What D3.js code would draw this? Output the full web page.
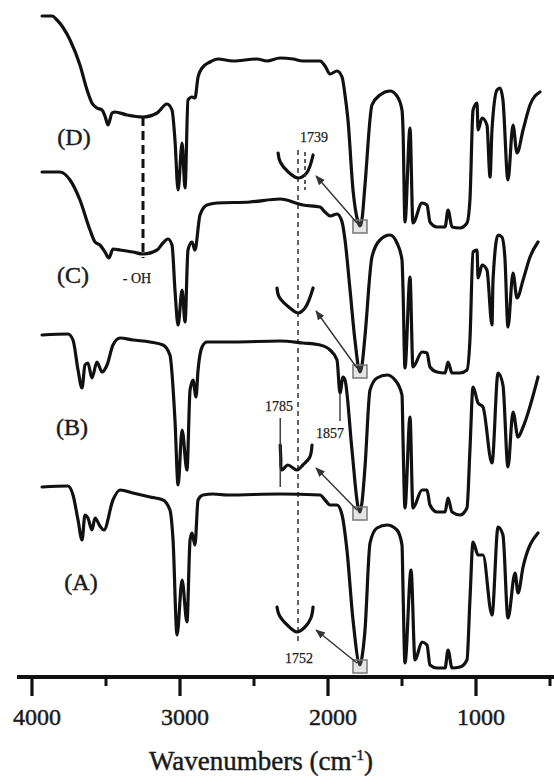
<!DOCTYPE html>
<html>
<head>
<meta charset="utf-8">
<script src="https://cdn.jsdelivr.net/npm/d3@7"></script>
<style>
    body { margin: 0; background: #fff; }
    svg { display: block; }
    text { font-family: "Liberation Serif", "Times New Roman", Times, serif; fill: #1a1a1a; stroke: #1a1a1a; stroke-width: 0.45px; }
</style>
</head>
<body>
<svg id="chart" width="554" height="778"></svg>
<script>
// FTIR spectra, [wavenumber cm-1, stacked transmittance (a.u.)]
const specD = [[3932,661],[3865,661],[3831,657],[3743,637],[3676,612],[3628,587],[3595,574],[3561,569],[3527,567],[3507,561],[3486,552],[3459,564],[3439,565],[3358,562],[3250,560],[3155,564],[3088,573],[3054,567],[3034,537],[3013,487],[2986,534],[2966,489],[2946,577],[2919,580],[2899,579],[2878,600],[2851,609],[2797,615],[2743,618],[2642,616],[2480,618],[2412,616],[2324,619],[2236,618],[2169,616],[2054,616],[2020,611],[1986,603],[1939,606],[1905,600],[1885,582],[1865,557],[1831,487],[1797,455],[1784,451],[1770,458],[1750,492],[1703,572],[1649,582],[1581,586],[1534,581],[1500,567],[1493,547],[1480,455],[1446,549],[1426,454],[1365,474],[1331,472],[1311,455],[1264,450],[1209,450],[1189,467],[1162,450],[1108,449],[1061,454],[1041,477],[1020,567],[993,574],[986,547],[959,559],[926,552],[905,500],[892,547],[858,587],[838,589],[818,577],[784,497],[750,552],[723,524],[682,547],[635,572],[568,585]]
const specC = [[3932,505],[3811,505],[3743,497],[3676,477],[3608,447],[3574,435],[3541,432],[3507,425],[3480,419],[3453,428],[3405,427],[3318,425],[3250,423],[3155,427],[3115,434],[3081,438],[3054,432],[3034,387],[3013,352],[2986,387],[2966,355],[2946,427],[2919,435],[2899,427],[2865,462],[2818,472],[2750,474],[2527,475],[2324,478],[2169,472],[2054,470],[2020,465],[1986,461],[1939,463],[1905,455],[1885,437],[1851,387],[1818,337],[1784,305],[1770,312],[1750,341],[1703,420],[1649,437],[1581,442],[1534,434],[1500,417],[1493,387],[1480,309],[1446,400],[1426,310],[1365,325],[1331,324],[1311,310],[1264,305],[1209,304],[1189,315],[1162,304],[1108,304],[1061,307],[1041,337],[1020,425],[993,427],[986,399],[959,412],[926,407],[892,352],[885,397],[851,442],[825,440],[805,420],[784,350],[750,404],[723,379],[682,397],[635,420],[581,435]]
const specB = [[3932,342],[3757,343],[3723,337],[3689,307],[3662,289],[3642,312],[3622,314],[3595,299],[3561,315],[3527,305],[3493,312],[3453,332],[3405,339],[3318,337],[3203,335],[3115,332],[3068,322],[3034,257],[3013,192],[2986,247],[2953,207],[2932,287],[2912,297],[2892,280],[2878,307],[2851,330],[2818,335],[2642,335],[2324,336],[2169,334],[2054,332],[1986,327],[1939,317],[1919,284],[1899,300],[1885,297],[1838,227],[1797,170],[1784,165],[1770,175],[1750,210],[1716,287],[1669,299],[1601,302],[1547,297],[1500,282],[1493,237],[1480,169],[1446,260],[1426,169],[1365,187],[1331,187],[1311,172],[1264,165],[1209,165],[1189,179],[1162,165],[1108,162],[1061,169],[1041,227],[1020,290],[986,274],[953,270],[892,214],[851,304],[818,292],[784,210],[750,265],[716,240],[682,250],[581,300]]
const specA = [[3932,190],[3757,191],[3723,182],[3689,157],[3662,137],[3642,162],[3622,159],[3595,147],[3574,159],[3541,151],[3514,147],[3453,177],[3405,187],[3318,184],[3203,180],[3115,177],[3068,167],[3047,137],[3020,42],[2986,97],[2953,55],[2932,137],[2919,144],[2899,132],[2878,177],[2845,182],[2777,183],[2682,182],[2324,183],[2054,182],[2020,177],[1986,172],[1939,172],[1905,162],[1872,127],[1831,57],[1784,12],[1770,20],[1750,47],[1716,134],[1669,149],[1601,152],[1534,147],[1500,132],[1493,87],[1480,14],[1439,107],[1412,17],[1365,35],[1331,32],[1311,12],[1264,9],[1209,9],[1189,27],[1162,9],[1108,10],[1061,17],[1041,77],[1020,135],[986,122],[953,122],[892,62],[851,150],[818,142],[784,59],[736,104],[716,84],[682,110],[581,144]]

// zoomed carbonyl band, [wavenumber, relative depth 0..1]
const insetD = [[1789,0],[1785,0.36],[1770,0.76],[1752,1],[1736,0.8],[1724,0.08]]
const insetC = [[1791,0],[1787,0.36],[1767,0.8],[1752,1],[1739,0.8],[1724,0]]
const insetB = [[1785,0],[1784,0.5],[1782,1],[1771,0.8],[1754,1],[1743,0.8],[1730,0.48],[1726,0]]
const insetA = [[1791,0],[1787,0.32],[1772,0.72],[1754,1],[1739,0.8],[1728,0.44],[1724,0]]

const seriesNames = ["(D)", "(C)", "(B)", "(A)"]
const majorTicks = [4000, 3000, 2000, 1000]
const minorTicks = [3500, 2500, 1500, 500]
const carbonylPeak = 1784
const ohPeak = 3250

const svg = d3.select("#chart")

const x = d3.scaleLinear().domain([4000, 1000]).range([32, 476])
const y = d3.scaleLinear().domain([0, 677]).range([677, 0])
const ix = d3.scaleLinear().domain([1752, 1739]).range([298, 305])

const ink = "#111"

svg.append("defs").append("marker")
    .attr("id", "arrow")
    .attr("viewBox", "0 0 10 10")
    .attr("refX", 9).attr("refY", 5)
    .attr("markerWidth", 7).attr("markerHeight", 7)
    .attr("orient", "auto")
    .append("path")
    .attr("d", "M0,1 L10,5 L0,9 z")
    .attr("fill", "#333")

const line = d3.line()
    .x(d => x(d[0]))
    .y(d => y(d[1]))
    .curve(d3.curveMonotoneX)

const spectra = [specD, specC, specB, specA]
const labelPos = [[74, 137], [73, 275], [72, 427], [81, 582]]
const insets = [
    {data: insetD, top: 153, spec: specD},
    {data: insetC, top: 288, spec: specC},
    {data: insetB, top: 445, spec: specB},
    {data: insetA, top: 607, spec: specA}
]

// guide lines behind everything
svg.append("line")
    .attr("x1", ix(1752)).attr("x2", ix(1752))
    .attr("y1", 150).attr("y2", 645)
    .attr("stroke", "#333").attr("stroke-width", 1.5)
    .attr("stroke-dasharray", "5,4")

svg.append("line")
    .attr("x1", x(ohPeak)).attr("x2", x(ohPeak))
    .attr("y1", y(560)).attr("y2", 258)
    .attr("stroke", ink).attr("stroke-width", 3)
    .attr("stroke-dasharray", "9,5")

// spectra
spectra.forEach(s => {
    svg.append("path")
        .attr("d", line(s))
        .attr("fill", "none")
        .attr("stroke", ink)
        .attr("stroke-width", 3.2)
        .attr("stroke-linejoin", "round")
        .attr("stroke-linecap", "round")
})

seriesNames.forEach((n, i) => {
    svg.append("text")
        .attr("x", labelPos[i][0]).attr("y", labelPos[i][1])
        .attr("dy", "0.35em")
        .attr("text-anchor", "middle")
        .style("font-size", "24px")
        .text(n)
})

// insets, boxes and arrows
insets.forEach(ins => {
    const iy = d3.scaleLinear().domain([0, 1]).range([ins.top, ins.top + 25])
    const iline = d3.line().x(d => ix(d[0])).y(d => iy(d[1])).curve(d3.curveCatmullRom)
    svg.append("path")
        .attr("d", iline(ins.data))
        .attr("fill", "none")
        .attr("stroke", ink)
        .attr("stroke-width", 3.2)
        .attr("stroke-linecap", "round")
        .attr("stroke-linejoin", "round")

    const minVal = d3.min(ins.spec, d => d[1])
    const bx = x(carbonylPeak), by = y(minVal) - 1
    svg.append("rect")
        .attr("x", bx - 7).attr("y", by - 7)
        .attr("width", 14).attr("height", 13)
        .attr("fill", "rgba(150,150,150,0.25)")
        .attr("stroke", "#777").attr("stroke-width", 1.5)

    svg.append("line")
        .attr("x1", bx - 3).attr("y1", by - 4)
        .attr("x2", ix(1724) + 3).attr("y2", ins.top + 23)
        .attr("stroke", "#333").attr("stroke-width", 1.4)
        .attr("marker-end", "url(#arrow)")
})

// annotations
svg.append("line")
    .attr("x1", ix(1739)).attr("x2", ix(1739))
    .attr("y1", 152).attr("y2", 190)
    .attr("stroke", "#333").attr("stroke-width", 1.6)
    .attr("stroke-dasharray", "4,3")

svg.append("line")
    .attr("x1", ix(1785)).attr("x2", ix(1785))
    .attr("y1", 418).attr("y2", 487)
    .attr("stroke", "#333").attr("stroke-width", 1.4)

svg.append("line")
    .attr("x1", x(1919)).attr("x2", x(1919))
    .attr("y1", y(284)).attr("y2", 421)
    .attr("stroke", "#333").attr("stroke-width", 1.4)

const notes = [
    {t: "1739", x: 314, y: 137},
    {t: "1785", x: 279, y: 406},
    {t: "1857", x: 330, y: 433},
    {t: "1752", x: 299, y: 658},
    {t: "- OH", x: 137, y: 278}
]
notes.forEach(n => {
    svg.append("text")
        .attr("x", n.x).attr("y", n.y)
        .attr("dy", "0.35em")
        .attr("text-anchor", "middle")
        .style("font-size", "14px")
        .style("stroke-width", "0.25px")
        .text(n.t)
})

// x axis
const axisY = 677
svg.append("line")
    .attr("x1", 17).attr("x2", 554)
    .attr("y1", axisY).attr("y2", axisY)
    .attr("stroke", ink).attr("stroke-width", 4)

svg.selectAll(".major")
    .data(majorTicks)
    .join("line")
    .attr("class", "major")
    .attr("x1", d => x(d)).attr("x2", d => x(d))
    .attr("y1", axisY).attr("y2", axisY + 19)
    .attr("stroke", ink).attr("stroke-width", 3.2)

svg.selectAll(".minor")
    .data(minorTicks)
    .join("line")
    .attr("class", "minor")
    .attr("x1", d => x(d)).attr("x2", d => x(d))
    .attr("y1", axisY).attr("y2", axisY + 9)
    .attr("stroke", ink).attr("stroke-width", 3)

svg.selectAll(".tickLabel")
    .data(majorTicks)
    .join("text")
    .attr("class", "tickLabel")
    .attr("x", d => x(d) + 5)
    .attr("y", 725)
    .attr("text-anchor", "middle")
    .style("font-size", "24px")
    .text(d => d)

const title = svg.append("text")
    .attr("x", 261).attr("y", 770)
    .attr("text-anchor", "middle")
    .style("font-size", "27px")
title.append("tspan").text("Wavenumbers (cm")
title.append("tspan").attr("dy", -10).style("font-size", "15px").text("-1")
title.append("tspan").attr("dy", 10).text(")")
</script>
</body>
</html>
